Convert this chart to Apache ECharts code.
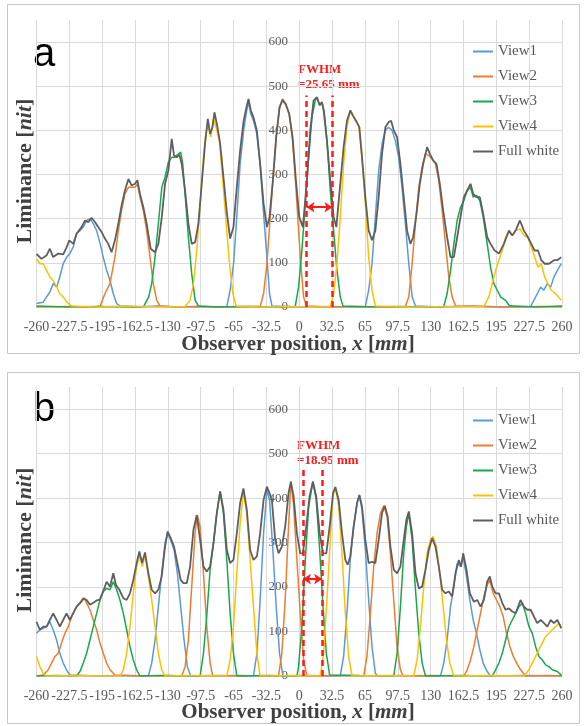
<!DOCTYPE html>
<html>
<head>
<meta charset="utf-8">
<script src="https://cdn.jsdelivr.net/npm/echarts@6.0.0/dist/echarts.min.js"></script>
<style>
  html, body { margin: 0; padding: 0; background: #fff; }
  #chart { width: 587px; height: 726px; }
</style>
</head>
<body>
<div id="chart"></div>
<script>
// observer position ticks (mm) and luminance range (nit)
var xTicks = [-260, 260, 32.5];
var yTicks = [0, 650, 100];
var seriesNames = ['View1', 'View2', 'View3', 'View4', 'Full white'];

// ---- panel a : [x mm, luminance nit]
var a_view1 = [[-260,8],[-253.4,11],[-246.8,34],[-243.5,53],[-240,45],[-237,68],[-233.6,98],[-230,113],[-227,121],[-223.6,136],[-220.4,166],[-217,173],[-213.7,181],[-210.4,196],[-207,200],[-203.8,189],[-200.5,173],[-197,143],[-194,113],[-190.6,83],[-187.3,60],[-184,30],[-180.7,8],[-177.4,2],
  [-160,0],[-140,2],[-120,0],[-100,1],[-80,0],
  [-71.7,1],[-68.4,38],[-65,98],[-61.8,204],[-58.5,324],[-55,400],[-52,445],[-50,464],[-48,437],[-45.3,422],[-42,392],[-38.7,324],[-35.3,211],[-32,113],[-29.4,30],[-27,2],
  [0,0],[30,1],[50,0],
  [65.4,1],[68.7,38],[72,98],[75.3,204],[78.6,309],[82,370],[85.2,400],[88.5,407],[91.8,400],[95.1,377],[98.4,339],[101.7,271],[105,189],[108.4,98],[111.7,23],[115,2],
  [140,0],[170,2],[200,0],[229,1],
  [235.5,30],[238.9,45],[242,38],[245.5,53],[248.8,45],[252,68],[255.4,83],[259.3,98]];
var a_view2 = [[-260,0],[-230,1],[-210,0],[-200.5,1],[-197,2],[-192.3,30],[-187.3,53],[-182.4,113],[-179,173],[-175.8,219],[-172.5,256],[-169,271],[-165.8,271],[-162.5,271],[-160.2,279],[-157.6,249],[-154.3,219],[-151,173],[-147.7,113],[-144.4,53],[-141,15],[-137.8,2],
  [-120,0],[-100,1],[-70,0],[-50,1],
  [-38.7,1],[-35.3,30],[-32,98],[-28.7,204],[-26,287],[-22.8,385],[-19.5,452],[-16.5,471],[-13.2,460],[-9.9,437],[-6.6,377],[-3.3,271],[0,150],[1.5,98],[4.3,23],[7,2],
  [30,0],[60,1],[90,0],
  [105,1],[108.4,23],[111.7,98],[115,189],[118.3,271],[121.6,317],[124.9,347],[128.2,343],[131.5,335],[134.8,324],[138,287],[141.4,219],[144.7,143],[148,68],[151.3,23],[154.6,2],
  [180,1],[210,0],[240,1],[260,0]];
var a_view3 = [[-260,2],[-230,0],[-200,1],[-170,0],
  [-154,1],[-149,23],[-146,53],[-142.7,113],[-139.4,189],[-136,271],[-132.8,294],[-129.5,328],[-126.2,339],[-123,339],[-119.6,347],[-117.3,351],[-115.3,324],[-113,256],[-109.7,158],[-106.4,75],[-103,15],[-99.8,2],
  [-80,0],[-50,1],[-20,0],
  [-4,1],[-0.7,45],[2.6,128],[6,234],[9.3,339],[12.6,430],[15.9,468],[17.5,475],[20.2,457],[22.5,464],[24.8,441],[27.4,377],[30.7,264],[34,173],[37.3,83],[40.6,23],[43.3,2],
  [70,0],[100,1],[130,0],
  [143,1],[146.3,30],[149.7,83],[153,143],[156.3,196],[159.6,226],[162.9,241],[166.2,264],[169.5,271],[172.1,249],[175.4,253],[178.7,241],[182,204],[186,143],[189.3,90],[192.6,53],[195.9,38],[199.2,23],[204.2,15],[207.5,4],[212.4,2],
  [235,0],[260,2]];
var a_view4 = [[-260,109],[-256.7,98],[-253.4,98],[-250,83],[-246.8,68],[-243.5,60],[-240,45],[-237,30],[-233.6,23],[-230,11],[-225.3,2],
  [-200,0],[-170,2],[-140,0],
  [-113,1],[-108,15],[-104.7,53],[-101.4,128],[-98,234],[-94.8,339],[-92.2,400],[-89.9,407],[-87.5,385],[-84.9,426],[-82.3,407],[-79,377],[-75.7,287],[-72.3,189],[-69,98],[-65.7,30],[-62.4,2],
  [-40,0],[-10,1],[15,0],
  [30.7,1],[34,30],[37.3,98],[40.6,204],[43.9,324],[47.2,407],[50.5,445],[52.9,437],[55.5,422],[58.8,411],[62.1,339],[65.4,234],[68.7,113],[72,38],[75.3,2],
  [110,0],[150,1],
  [182.7,1],[187.6,23],[191,53],[194.3,83],[197.6,106],[200.9,128],[204.2,158],[207.5,170],[210.8,162],[214.1,173],[218.4,177],[222.3,162],[226.3,158],[229.6,136],[232.9,113],[236.2,90],[239.5,98],[242.8,68],[246.1,53],[249.4,38],[253.7,30],[259.3,15]];
var a_white = [[-260,120],[-255,109],[-250,117],[-246.8,132],[-243.5,113],[-238.5,121],[-233.6,119],[-230,136],[-227.6,151],[-223.6,143],[-220.4,166],[-215.4,181],[-212,196],[-208.8,192],[-205.5,202],[-202,192],[-198.9,181],[-195.6,170],[-192.3,155],[-189,143],[-185.7,124],[-182.4,151],[-179,189],[-175.8,230],[-172.5,264],[-169,290],[-165.8,275],[-162.5,279],[-160.2,287],[-157.6,256],[-154.3,226],[-151,189],[-147,132],[-142.7,124],[-139.4,143],[-136,204],[-132.8,279],[-129.5,309],[-126.2,381],[-123.9,343],[-121.2,339],[-118.6,345],[-116.3,324],[-113,264],[-109.7,189],[-106.4,143],[-103,147],[-99.8,189],[-96.5,279],[-93.2,370],[-90.5,426],[-88.2,392],[-85.9,407],[-83.9,441],[-80.9,407],[-78.3,370],[-75,294],[-71.7,215],[-68.4,155],[-65.1,181],[-61.8,271],[-58.5,354],[-55.2,419],[-51.9,456],[-50.2,471],[-47.9,445],[-45.3,430],[-42,400],[-38.7,324],[-35.3,234],[-32,181],[-29.4,204],[-26.1,287],[-22.8,385],[-19.5,452],[-16.5,469],[-13.2,458],[-9.9,437],[-6.6,385],[-3.3,287],[0,204],[3.6,181],[7.6,287],[10.9,400],[14.2,468],[17.5,475],[20.2,457],[22.5,464],[24.1,445],[27.4,377],[30.7,287],[34,204],[36.7,181],[40,264],[43.9,362],[47.2,422],[50.5,445],[52.9,434],[56.2,422],[59.5,407],[62.1,339],[65.4,249],[68.7,173],[72,151],[75.3,173],[78.6,249],[81.9,347],[85.2,407],[88.5,419],[90.9,422],[93.5,400],[96.8,385],[100.1,324],[103.4,249],[106.7,173],[110,143],[112.7,158],[116,211],[119.3,279],[122.6,324],[126.5,362],[129.2,347],[132.5,332],[135.8,324],[139.1,279],[142.4,219],[146.3,158],[149.7,113],[153,113],[156.3,158],[159.6,204],[162.9,249],[166.2,264],[169.5,279],[172.1,256],[175.4,249],[178.7,249],[182,211],[186,158],[189.3,143],[193.3,128],[197.6,121],[202.5,143],[207.5,173],[210.8,162],[214.1,173],[218.4,196],[222.3,173],[226.3,158],[229.6,143],[232.9,128],[236.2,128],[239.5,106],[242.8,98],[247.1,98],[252.1,106],[255.4,106],[259.3,113]];

// ---- panel b
var b_view1 = [[-260,96],[-256.7,104],[-253.4,107],[-250,111],[-246.8,122],[-243.5,104],[-240.1,81],[-236.9,51],[-233.6,29],[-230.3,14],[-227,2],
  [-200,0],[-170,1],
  [-149.3,0],[-146,29],[-142.7,81],[-139.4,156],[-136.1,231],[-132.8,299],[-130.2,321],[-127.2,306],[-123.9,284],[-120.6,231],[-117.3,156],[-114,81],[-110.7,21],[-107.4,0],
  [-80,1],[-60,0],
  [-45.3,0],[-41.9,51],[-38.7,171],[-35.3,321],[-32,419],[-29.4,396],[-26.1,284],[-22.8,156],[-19.5,51],[-16.2,0],
  [10,1],[30,0],
  [40.6,0],[43.9,44],[47.2,141],[50.5,261],[53.8,336],[57.2,389],[59.5,407],[62.1,374],[65.4,284],[68.7,171],[72,66],[75.3,6],[77.6,0],
  [100,1],[120,0],
  [139.7,0],[143,29],[146.3,81],[149.7,156],[153,201],[156.3,254],[159.6,246],[162.2,269],[165.5,224],[168.8,171],[172.1,126],[175.4,96],[178.7,59],[182,29],[186,10],[189.3,0],
  [220,1],[260,0]];
var b_view2 = [[-260,0],[-253.4,2],[-248.4,14],[-245.1,29],[-241.8,44],[-238.5,51],[-235.2,74],[-231.9,96],[-228.6,111],[-225.3,134],[-222,149],[-218.7,160],[-215.4,167],[-212.8,175],[-210.4,164],[-207.1,149],[-203.8,126],[-200.5,104],[-197.2,74],[-193.9,51],[-190.6,29],[-187.3,14],[-182.4,2],
  [-160,0],[-135,1],
  [-116.3,0],[-113,21],[-109.7,81],[-106.4,201],[-103.1,321],[-100.8,362],[-98.1,336],[-94.8,231],[-91.5,111],[-88.2,29],[-85.6,0],
  [-60,1],[-35,0],
  [-20.5,0],[-17.2,51],[-13.9,171],[-10.6,336],[-8.3,437],[-5.6,385],[-2.3,261],[1,141],[4.3,36],[7.6,0],
  [35,1],
  [63.8,0],[67,44],[70.4,141],[73.7,246],[77,321],[80.3,366],[83.6,383],[86.9,359],[90.2,276],[93.5,171],[96.8,66],[100.1,14],[102.7,0],
  [130,1],
  [162.9,0],[166.2,14],[169.5,36],[172.8,66],[176.1,104],[179.4,141],[182.7,179],[186,205],[188.6,216],[191.9,186],[195.2,171],[198.5,156],[201.8,134],[205.1,96],[208.5,66],[211.8,44],[215.1,29],[219,14],[224,0],
  [245,1],[260,0]];
var b_view3 = [[-260,0],[-240,1],
  [-220.4,0],[-217,10],[-213.7,29],[-210.4,51],[-207.1,81],[-203.8,111],[-200.5,141],[-197.2,171],[-193.9,190],[-190.6,197],[-187.3,194],[-184,212],[-180.7,194],[-177.4,171],[-174.1,141],[-170.8,104],[-167.5,66],[-164.2,36],[-160.9,14],[-157.6,0],
  [-130,1],[-110,0],
  [-98.1,0],[-94.8,51],[-91.5,135],[-88.2,240],[-84.9,299],[-81.6,366],[-78.3,415],[-75,366],[-71.7,261],[-68.4,141],[-65.1,51],[-61.8,0],
  [-30,1],
  [-2.3,0],[-0.7,21],[2.6,111],[6,261],[9.3,381],[13.5,437],[16.8,396],[20.2,284],[23.5,156],[26.8,51],[30.1,2],
  [60,1],
  [93.5,0],[96.8,51],[100.1,156],[103.4,276],[106,336],[108.4,366],[111.7,306],[115,194],[118.3,96],[121.6,29],[124.9,0],
  [160,1],
  [191,0],[194.3,14],[197.6,29],[200.9,51],[204.2,81],[207.5,111],[210.8,126],[214.1,141],[217.4,156],[220.7,164],[224,141],[227.3,111],[230.6,96],[233.9,66],[237.2,44],[240.5,36],[243.8,25],[247.1,21],[250.4,14],[255.4,10],[259.3,2]];
var b_view4 = [[-260,44],[-256.7,21],[-253.4,6],[-250,0],
  [-220,1],[-195,0],
  [-177.4,0],[-174.1,14],[-170.8,51],[-167.5,111],[-164.2,186],[-160.9,246],[-157.6,272],[-155.3,246],[-152.6,272],[-149.3,224],[-146,171],[-142.7,111],[-139.4,51],[-136.1,14],[-132.8,0],
  [-100,1],
  [-71.7,0],[-68.4,36],[-65.1,111],[-61.8,231],[-58.5,344],[-55.2,415],[-51.9,366],[-48.6,261],[-45.3,156],[-41.9,51],[-38.7,0],
  [0,1],
  [20.8,0],[24.1,51],[27.4,171],[30.7,306],[33.4,404],[35.7,425],[39,381],[42.3,276],[45.6,141],[48.9,44],[52.2,0],
  [85,1],
  [113.3,0],[116.6,36],[119.9,111],[123.2,201],[126.5,276],[129.8,306],[132.5,314],[135.8,291],[139.1,231],[142.4,156],[145.7,81],[149,29],[153,0],
  [190,1],
  [222.3,0],[227.3,14],[230.6,29],[233.9,44],[237.2,59],[240.5,74],[243.8,89],[247.1,96],[250.4,104],[253.7,111],[257,119],[259.3,111]];
var b_white = [[-260,122],[-256.7,104],[-253.4,111],[-250,111],[-246.8,126],[-243.5,141],[-240.1,126],[-236.9,111],[-233.6,126],[-230.3,141],[-227,126],[-223.7,141],[-220.4,156],[-217,164],[-213.7,175],[-210.4,171],[-207.1,160],[-203.8,165],[-200.5,170],[-197.2,172],[-193.3,195],[-190.6,212],[-187.3,201],[-184,231],[-181.4,205],[-178,194],[-174.1,175],[-170.8,171],[-167.5,186],[-164.2,216],[-160.9,254],[-158.2,280],[-155.6,254],[-152.6,278],[-149.3,231],[-146,194],[-142.7,186],[-139.4,194],[-136.1,224],[-132.8,291],[-130.2,325],[-127.2,310],[-123.9,291],[-120.6,254],[-117.3,216],[-114.6,209],[-111.3,209],[-108,246],[-104.7,329],[-101.4,362],[-98.1,306],[-94.8,246],[-91.5,235],[-88.2,246],[-84.9,299],[-81.6,366],[-78.3,415],[-75,374],[-71.7,284],[-68.4,254],[-65.1,261],[-61.8,321],[-58.5,389],[-55.2,422],[-51.9,374],[-48.6,284],[-45.3,261],[-41.9,269],[-38.7,321],[-35.3,396],[-32,426],[-29.4,411],[-27.1,396],[-23.8,306],[-20.5,276],[-17.2,291],[-13.9,336],[-10.6,411],[-8.3,437],[-5.6,404],[-2.3,321],[1,276],[3.6,276],[6.9,336],[10.2,404],[13.5,437],[16.8,404],[20.2,321],[23.5,276],[26.8,276],[30.1,336],[33.4,411],[35.7,425],[39,396],[42.3,321],[45.6,261],[47.9,250],[50.5,269],[53.8,336],[57.2,389],[59.5,407],[62.1,381],[65.4,306],[68.7,254],[72,257],[75.3,254],[78.6,306],[81.9,366],[84.6,383],[87.5,359],[90.2,291],[93.5,239],[96.8,231],[100.1,246],[103.4,306],[106,351],[108.4,370],[111.7,321],[115,231],[118.3,197],[121.6,201],[124.9,239],[128.2,284],[131.5,310],[134.8,291],[138.1,246],[141.4,194],[144.7,186],[148,190],[151.3,179],[154.6,231],[157.9,261],[160.2,246],[162.2,276],[165.5,239],[168.8,186],[172.8,167],[176.1,171],[179.4,156],[182.7,171],[186,212],[188.6,224],[191,201],[194.3,186],[197.6,186],[200.9,164],[204.2,149],[207.5,152],[210.8,145],[214.1,141],[219,171],[222.3,156],[225.6,149],[228.9,149],[232.2,134],[235.5,119],[238.9,126],[242.2,119],[245.5,111],[248.8,126],[252,119],[255.4,126],[259.3,107]];

// FWHM markers: [left edge, right edge, dashed line top, arrow height]
var fwhmA = [7.2, 32.85, 479, 226];
var fwhmB = [3.7, 22.65, 471, 218];
var fwhmText = ['FWHM\n=25.65 mm', 'FWHM\n=18.95 mm'];

var colors = ['#5b9bd5', '#ed7d31', '#17a84b', '#ffc000', '#5f5f5f'];
var serif = '"Liberation Serif", "Times New Roman", serif';
var gridCol = '#dadada';
var gridLeft = 36.5;
var zeroX = 299;   // pixel where x = 0, the y axis sits there

var chart = echarts.init(document.getElementById('chart'));

function fwhmMarks(f) {
  return {
    silent: true,
    symbol: 'none',
    label: { show: false },
    animation: false,
    data: [
      [{ coord: [f[0], 0], lineStyle: { type: [6, 4], width: 2.5, color: '#ff1a1a' } }, { coord: [f[0], f[2]] }],
      [{ coord: [f[1], 0], lineStyle: { type: [6, 4], width: 2.5, color: '#ff1a1a' } }, { coord: [f[1], f[2]] }],
      [{ coord: [f[0], f[3]], symbol: 'arrow', symbolSize: 8, lineStyle: { type: 'solid', width: 2, color: '#ff1a1a' } },
       { coord: [f[1], f[3]], symbol: 'arrow', symbolSize: 8 }]
    ]
  };
}

function makeSeries(panel, list, f) {
  return list.map(function (d, i) {
    var s = {
      name: seriesNames[i],
      type: 'line',
      xAxisIndex: panel,
      yAxisIndex: panel,
      data: d,
      symbol: 'none',
      color: colors[i],
      lineStyle: { width: i == 4 ? 1.8 : 1.5, color: colors[i] },
      animation: false
    };
    if (i == 4) s.markLine = fwhmMarks(f);
    return s;
  });
}

function xAx(gi) {
  return {
    type: 'value', gridIndex: gi,
    min: xTicks[0], max: xTicks[1], interval: xTicks[2],
    axisLine: { lineStyle: { color: gridCol } },
    axisTick: { show: false },
    axisLabel: { color: '#595959', fontFamily: serif, fontSize: 14, margin: 13,
      showMinLabel: true, showMaxLabel: true, hideOverlap: false },
    splitLine: { lineStyle: { color: gridCol } }
  };
}

function yAx(gi) {
  return {
    type: 'value', gridIndex: gi,
    position: 'left',
    offset: -(zeroX - gridLeft),
    min: yTicks[0], max: yTicks[1], interval: yTicks[2],
    axisLine: { show: true, onZero: false, lineStyle: { color: gridCol } },
    axisTick: { show: false },
    axisLabel: { color: '#595959', fontFamily: serif, fontSize: 13, margin: 11, showMaxLabel: false },
    splitLine: { showMaxLine: false, lineStyle: { color: gridCol } }
  };
}

function legend(top) {
  return {
    orient: 'vertical', left: 473, top: top,
    icon: 'rect',
    itemWidth: 20, itemHeight: 2, itemGap: 10, padding: 0,
    textStyle: { color: '#595959', fontFamily: serif, fontSize: 15, lineHeight: 14 },
    data: seriesNames
  };
}

var xTitle = '{r|Observer position, }{i|x}{r| [}{i|mm}{r|]}';
var yTitle = '{r|Liminance [}{i|nit}{r|]}';
var xRich = {
  r: { font: 'bold 21px ' + serif, fill: '#404040' },
  i: { font: 'italic bold 21px ' + serif, fill: '#404040' }
};
var yRich = {
  r: { font: 'bold 22px ' + serif, fill: '#404040' },
  i: { font: 'italic bold 22px ' + serif, fill: '#404040' }
};

function textEl(x, y, text, rich) {
  return {
    type: 'text', x: x, y: y, silent: true,
    style: { text: text, align: 'center', verticalAlign: 'middle', rich: rich }
  };
}

var graphics = [
  { type: 'rect', silent: true, shape: { x: 7.5, y: 4.5, width: 572, height: 349 }, style: { fill: 'none', stroke: '#c8c8c8', lineWidth: 1 } },
  { type: 'rect', silent: true, shape: { x: 7.5, y: 372.5, width: 572, height: 351 }, style: { fill: 'none', stroke: '#c8c8c8', lineWidth: 1 } },
  textEl(298, 345, xTitle, xRich),
  textEl(298, 713, xTitle, xRich),
  Object.assign(textEl(25, 171, yTitle, yRich), { rotation: Math.PI / 2 }),
  Object.assign(textEl(25, 540, yTitle, yRich), { rotation: Math.PI / 2 }),
  { type: 'text', x: 33, y: 55, silent: true, style: { text: 'a', font: '40px "Liberation Sans", Arial, sans-serif', fill: '#000', verticalAlign: 'middle' } },
  { type: 'text', x: 33, y: 410, silent: true, style: { text: 'b', font: '40px "Liberation Sans", Arial, sans-serif', fill: '#000', verticalAlign: 'middle' } },
  { type: 'text', x: 298, y: 62, silent: true, style: { text: fwhmText[0], font: 'bold 13px ' + serif, fill: '#ff1a1a', lineHeight: 15 } },
  { type: 'text', x: 297, y: 438, silent: true, style: { text: fwhmText[1], font: 'bold 13px ' + serif, fill: '#ff1a1a', lineHeight: 15 } }
];

var option = {
  backgroundColor: '#fff',
  animation: false,
  grid: [
    { left: gridLeft, right: 25, top: 20, height: 287 },
    { left: gridLeft, right: 25, top: 387, height: 289 }
  ],
  xAxis: [xAx(0), xAx(1)],
  yAxis: [yAx(0), yAx(1)],
  legend: [legend(44), legend(413)],
  series: makeSeries(0, [a_view1, a_view2, a_view3, a_view4, a_white], fwhmA)
    .concat(makeSeries(1, [b_view1, b_view2, b_view3, b_view4, b_white], fwhmB)),
  graphic: graphics
};

chart.setOption(option);
window.addEventListener('resize', function () {
  chart.resize();
});
</script>
</body>
</html>
